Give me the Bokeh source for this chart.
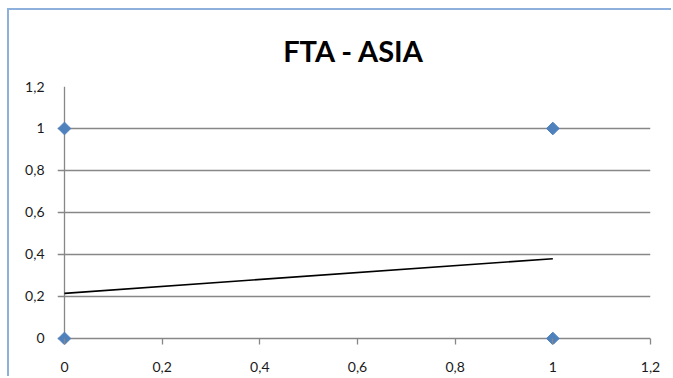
from bokeh.plotting import figure
from bokeh.models import FixedTicker, Range1d
from bokeh.embed import file_html
from bokeh.resources import INLINE
import math

# Data
point_x = [0, 0, 1, 1]
point_y = [0, 1, 1, 0]
trend_x = [0, 1]
trend_y = [0.215, 0.38]
ticks = [0, 0.2, 0.4, 0.6, 0.8, 1, 1.2]
tick_labels = ["0", "0,2", "0,4", "0,6", "0,8", "1", "1,2"]
title_text = "FTA - ASIA"

FONT = "Lato"
GRID = "#878787"

p = figure(width=664, height=368, output_backend="svg", toolbar_location=None,
           x_range=Range1d(-0.0143, 1.2), y_range=Range1d(-0.0286, 1.2),
           min_border_left=48, min_border_right=23, min_border_top=76, min_border_bottom=34)
p.margin = (8, 0, 0, 7)
p.styles = {"border-left": "2px solid #8DB0DC", "border-top": "2px solid #8DB0DC"}

p.title.text = title_text
p.title.align = "center"
p.title.text_font = FONT
p.title.text_font_size = "29px"
p.title.text_font_style = "bold"
p.title.text_color = "#000000"
p.title.standoff = 38

p.outline_line_color = None
p.background_fill_color = "white"
p.border_fill_color = "white"

# horizontal grid (extends left past the axis like tick marks)
p.ygrid.ticker = FixedTicker(ticks=ticks)
p.ygrid.grid_line_color = GRID
p.ygrid.grid_line_width = 1.3
# vertical axis line at x=0
p.xgrid.ticker = FixedTicker(ticks=[0])
p.xgrid.grid_line_color = GRID
p.xgrid.grid_line_width = 1.3

for ax in (p.xaxis[0], p.yaxis[0]):
    ax.ticker = FixedTicker(ticks=ticks)
    ax.major_label_overrides = dict(zip(ticks, tick_labels))
    ax.axis_line_color = None
    ax.minor_tick_line_color = None
    ax.major_tick_line_color = GRID
    ax.major_tick_line_width = 1.3
    ax.major_label_text_font = FONT
    ax.major_label_text_font_size = "14px"
    ax.major_label_text_color = "#1a1a1a"

p.yaxis[0].major_tick_in = 0
p.yaxis[0].major_tick_out = 0
p.yaxis[0].major_label_standoff = 13
p.xaxis[0].major_tick_in = 6
p.xaxis[0].major_tick_out = 0
p.xaxis[0].major_label_standoff = 17

p.line(trend_x, trend_y, line_color="black", line_width=1.6)
p.scatter(point_x, point_y, marker="square", size=9, angle=math.pi / 4,
          fill_color="#4F81BD", line_color="#4F81BD")

open("out.html", "w").write(file_html(p, INLINE))
